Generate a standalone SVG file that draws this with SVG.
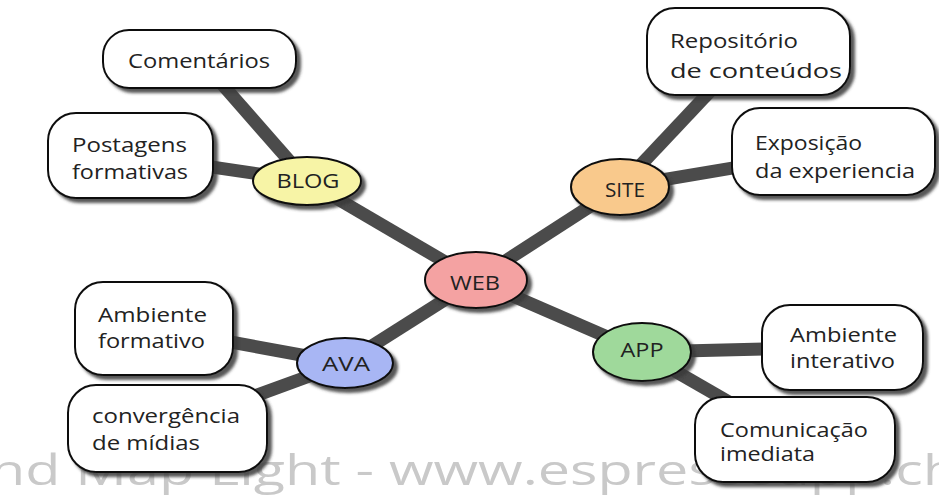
<svg xmlns="http://www.w3.org/2000/svg" width="939" height="496" viewBox="0 0 939 496">
<defs>
<filter id="sh" x="-20%" y="-20%" width="150%" height="160%">
<feDropShadow dx="4" dy="4" stdDeviation="1.8" flood-color="#3a3a3a" flood-opacity="0.85"/>
</filter>
</defs>
<style>
.wm{font-family:"Open Sans","Noto Sans",sans-serif;font-size:42px;fill:#c9c9c9}
.ln{stroke:#4b4b4b;stroke-width:13;fill:none}
.box{fill:#ffffff;stroke:#111;stroke-width:2}
.el{stroke:#111;stroke-width:2}
.t{font-family:"Open Sans","Noto Sans",sans-serif;font-size:20px;fill:#222}
.c{text-anchor:middle}
</style>
<rect width="939" height="496" fill="#ffffff"/>
<text class="wm" x="-10" y="485" textLength="968" lengthAdjust="spacingAndGlyphs">nd Map Light - www.espressoapp.ch</text>
<g id="connectors">
<line class="ln" x1="476" y1="280" x2="307" y2="181"/>
<line class="ln" x1="476" y1="280" x2="620" y2="187"/>
<line class="ln" x1="476" y1="280" x2="345" y2="363"/>
<line class="ln" x1="476" y1="280" x2="642" y2="352"/>
<line class="ln" x1="200" y1="59" x2="307" y2="181"/>
<line class="ln" x1="130" y1="155" x2="307" y2="181"/>
<line class="ln" x1="748" y1="51" x2="620" y2="187"/>
<line class="ln" x1="834" y1="151" x2="620" y2="187"/>
<line class="ln" x1="154" y1="328" x2="345" y2="363"/>
<line class="ln" x1="167" y1="428" x2="345" y2="363"/>
<line class="ln" x1="842" y1="347" x2="642" y2="352"/>
<line class="ln" x1="795" y1="440" x2="642" y2="352"/>
</g>
<g id="web">
<ellipse class="el" cx="476" cy="280" rx="51" ry="28" fill="#f4a2a2" filter="url(#sh)"/>
<text class="t c" x="475" y="290" textLength="50" lengthAdjust="spacingAndGlyphs">WEB</text>
</g>
<g id="blog">
<ellipse class="el" cx="307" cy="181" rx="54" ry="24" fill="#f7f4a6" filter="url(#sh)"/>
<text class="t c" x="308" y="188" textLength="63" lengthAdjust="spacingAndGlyphs">BLOG</text>
</g>
<g id="site">
<ellipse class="el" cx="620" cy="187" rx="49" ry="28" fill="#f9c98c" filter="url(#sh)"/>
<text class="t c" x="625" y="197" textLength="40" lengthAdjust="spacingAndGlyphs">SITE</text>
</g>
<g id="ava">
<ellipse class="el" cx="345" cy="363" rx="48" ry="25" fill="#a8b6f4" filter="url(#sh)"/>
<text class="t c" x="346" y="371" textLength="48" lengthAdjust="spacingAndGlyphs">AVA</text>
</g>
<g id="app">
<ellipse class="el" cx="642" cy="352" rx="49" ry="29" fill="#9fd99b" filter="url(#sh)"/>
<text class="t c" x="642" y="357" textLength="43" lengthAdjust="spacingAndGlyphs">APP</text>
</g>
<g id="comentarios">
<rect class="box" x="103" y="30" width="193" height="58" rx="26" filter="url(#sh)"/>
<text class="t" x="128" y="68" textLength="142" lengthAdjust="spacingAndGlyphs">Comentários</text>
</g>
<g id="postagens">
<rect class="box" x="48" y="113" width="165" height="85" rx="28" filter="url(#sh)"/>
<text class="t" x="72" y="152" textLength="115" lengthAdjust="spacingAndGlyphs">Postagens</text>
<text class="t" x="72" y="179" textLength="116" lengthAdjust="spacingAndGlyphs">formativas</text>
</g>
<g id="repositorio">
<rect class="box" x="647" y="8" width="203" height="87" rx="28" filter="url(#sh)"/>
<text class="t" x="670" y="48" textLength="128" lengthAdjust="spacingAndGlyphs">Repositório</text>
<text class="t" x="670" y="78" textLength="172" lengthAdjust="spacingAndGlyphs">de conteúdos</text>
</g>
<g id="exposicao">
<rect class="box" x="732" y="108" width="203" height="87" rx="28" filter="url(#sh)"/>
<text class="t" x="755" y="150" textLength="107" lengthAdjust="spacingAndGlyphs">Exposição</text>
<text class="t" x="755" y="178" textLength="160" lengthAdjust="spacingAndGlyphs">da experiencia</text>
</g>
<g id="ambiente-formativo">
<rect class="box" x="75" y="282" width="158" height="93" rx="28" filter="url(#sh)"/>
<text class="t" x="98" y="322" textLength="109" lengthAdjust="spacingAndGlyphs">Ambiente</text>
<text class="t" x="98" y="348" textLength="107" lengthAdjust="spacingAndGlyphs">formativo</text>
</g>
<g id="convergencia">
<rect class="box" x="68" y="385" width="199" height="87" rx="28" filter="url(#sh)"/>
<text class="t" x="92" y="423" textLength="148" lengthAdjust="spacingAndGlyphs">convergência</text>
<text class="t" x="92" y="450" textLength="108" lengthAdjust="spacingAndGlyphs">de mídias</text>
</g>
<g id="ambiente-interativo">
<rect class="box" x="762" y="305" width="161" height="85" rx="28" filter="url(#sh)"/>
<text class="t" x="790" y="342" textLength="107" lengthAdjust="spacingAndGlyphs">Ambiente</text>
<text class="t" x="790" y="368" textLength="105" lengthAdjust="spacingAndGlyphs">interativo</text>
</g>
<g id="comunicacao">
<rect class="box" x="695" y="397" width="200" height="85" rx="28" filter="url(#sh)"/>
<text class="t" x="720" y="437" textLength="148" lengthAdjust="spacingAndGlyphs">Comunicação</text>
<text class="t" x="720" y="461" textLength="95" lengthAdjust="spacingAndGlyphs">imediata</text>
</g>
</svg>
